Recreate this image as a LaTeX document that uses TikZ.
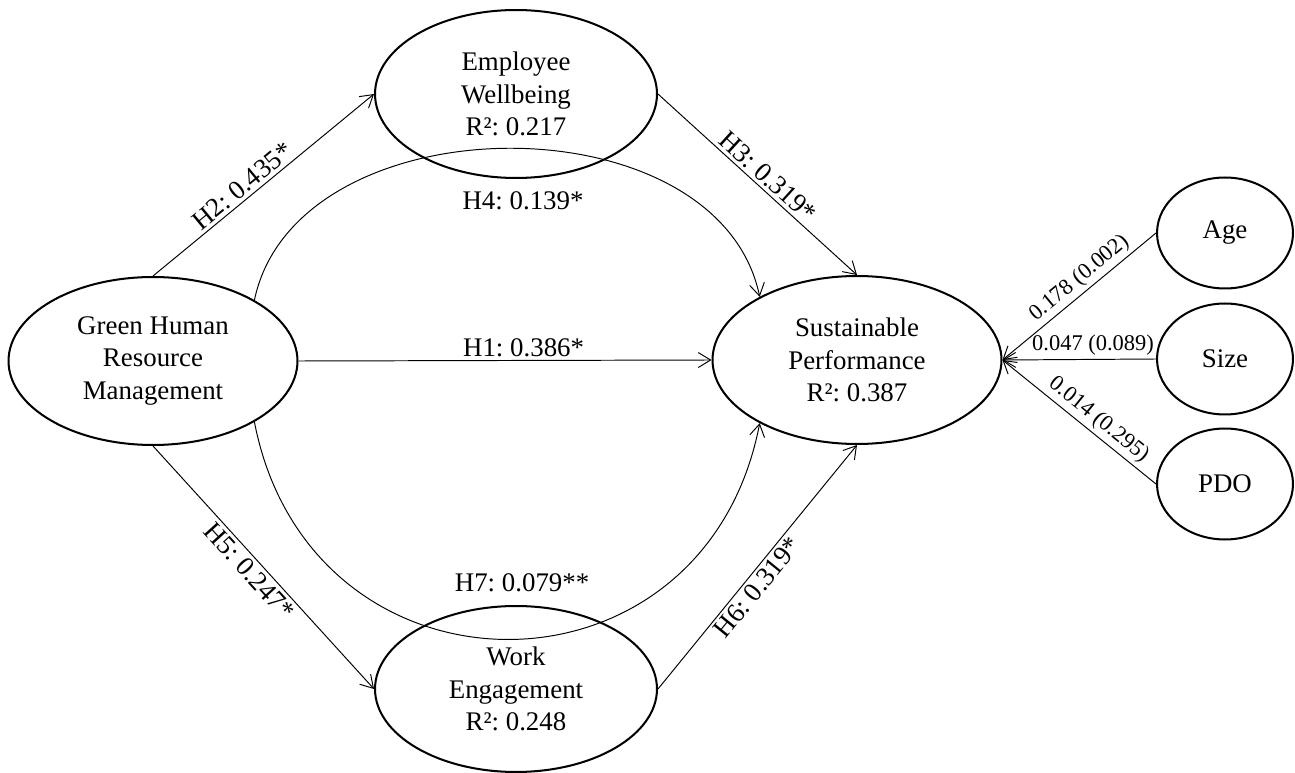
\documentclass[tikz,border=0pt]{standalone}
\usepackage{fontspec}
\setmainfont{Liberation Serif}
\frenchspacing
\usetikzlibrary{arrows.meta,shapes.geometric}
\begin{document}
\begin{tikzpicture}[x=0.02cm, y=-0.02cm,
  lat/.style={ellipse, draw, line width=1.15pt, inner sep=0pt, align=center,
    font=\fontsize{15.3}{18.5}\selectfont},
  bigl/.style={lat, minimum width=5.78cm, minimum height=3.36cm},
  ctl/.style={lat, minimum width=2.72cm, minimum height=2.22cm},
  conn/.style={line width=0.55pt, -{Straight Barb[length=7pt,width=8.5pt]}},
  lbl/.style={font=\fontsize{15.3}{18}\selectfont, inner sep=1.8pt},
  clbl/.style={font=\fontsize{12.8}{15}\selectfont, inner sep=1.8pt}
]
\useasboundingbox (0,0) rectangle (1295,773);

\node[bigl] (G) at (153,361) {Green Human\\Resource\\Management};
\node[bigl, minimum width=5.64cm] (E) at (516,94) {Employee\\Wellbeing\\R²: 0.217};
\node[bigl, minimum width=5.64cm, minimum height=3.32cm] (W) at (516,689) {Work\\Engagement\\R²: 0.248};
\node[bigl] (S) at (857,360) {Sustainable\\Performance\\R²: 0.387};
\node[ctl] (A) at (1225,233) {Age};
\node[ctl] (Z) at (1225,359) {Size};
\node[ctl] (P) at (1225,484) {PDO};

\draw[conn] (G.east) -- node[lbl, above, pos=0.545] {H1: 0.386*} (S.west);
\draw[conn] (G.north) -- node[lbl, sloped, above, pos=0.44] {H2: 0.435*} (E.west);
\draw[conn] (E.east) -- node[lbl, sloped, above, pos=0.51] {H3: 0.319*} (S.north);
\draw[conn] (G.south) -- node[lbl, sloped, below, pos=0.48] {H5: 0.247*} (W.west);
\draw[conn] (W.east) -- node[lbl, sloped, below, pos=0.45] {H6: 0.319*} (S.south);

\draw[conn] (G.31) .. controls +(42,-200) and +(-42,-200) ..
  node[lbl, pos=0.5, xshift=0.32cm, yshift=-1.04cm] {H4: 0.139*} (S.147);
\draw[conn] (G.329) .. controls +(56,289) and +(-56,289) ..
  node[lbl, pos=0.5, xshift=0.3cm, yshift=1.14cm] {H7: 0.079**} (S.213);

\draw[conn] (A.west) -- node[clbl, sloped, above, pos=0.44] {0.178 (0.002)} (S.east);
\draw[conn] (Z.west) -- node[clbl, above, pos=0.41] {0.047 (0.089)} (S.east);
\draw[conn] (P.west) -- node[clbl, sloped, above, pos=0.43] {0.014 (0.295)} (S.east);
\end{tikzpicture}
\end{document}
